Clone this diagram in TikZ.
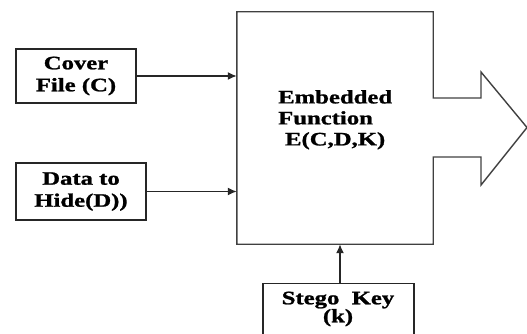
\documentclass[tikz,border=0pt]{standalone}
\usepackage{fontspec}
\setmainfont{Liberation Serif}[FakeStretch=1.3, BoldFeatures={FakeBold=1.2}]
\usetikzlibrary{arrows.meta}
\tikzset{
  box/.style={draw=black!85, line width=1.4pt, fill=white, inner sep=0pt,
    align=center, font=\bfseries\fontsize{19}{22}\selectfont},
  flow/.style={draw=black!85, line width=1.5pt,
    -{Latex[length=9pt,width=8pt]}},
  outline/.style={draw=black!75, line width=1.4pt, line join=miter}
}
\begin{document}
\begin{tikzpicture}[x=1pt,y=-1pt]
  \useasboundingbox (0,0) rectangle (527,334);
  \clip (0,0) rectangle (527,334);

  % input boxes
  \node[box, minimum width=120pt, minimum height=54pt] (cover) at (76,76)
    {Cover\\File (C)};
  \node[box, minimum width=130pt, minimum height=57pt] (data) at (81,191.5)
    {Data to\\Hide(D))};
  \node[box, minimum width=151pt, minimum height=70pt, anchor=north] (stego)
    at (338.5,283) {};
  \node[font=\bfseries\fontsize{19}{18}\selectfont, align=center] (stegotxt)
    at (338,309) {Stego\ \ Key\\(k)};

  % embedding block: a rectangle whose right side runs into a broad arrow
  \node[minimum width=196pt, minimum height=232pt, inner sep=0pt] (emb) at (335,128) {};
  \draw[outline] (emb.north west) -- (emb.north east) -- (emb.north east |- 0,98)
    -- (481,98) -- (481,72) -- (527,127.5) -- (481,185) -- (481,157)
    -- (emb.south east |- 0,157) -- (emb.south east) -- (emb.south west) -- cycle;
  \node[font=\bfseries\fontsize{19}{21}\selectfont, align=left, anchor=north west,
        inner sep=0pt] (embtxt) at (278,90)
    {Embedded\\Function\\\hphantom{i}E(C,D,K)};

  % connectors
  \draw[flow] (cover.east) -- (cover.east -| emb.west);
  \draw[flow] (data.east) -- (data.east -| emb.west);
  \draw[flow] (stego.north -| 340,0) -- (emb.south -| 340,0);
\end{tikzpicture}
\end{document}
